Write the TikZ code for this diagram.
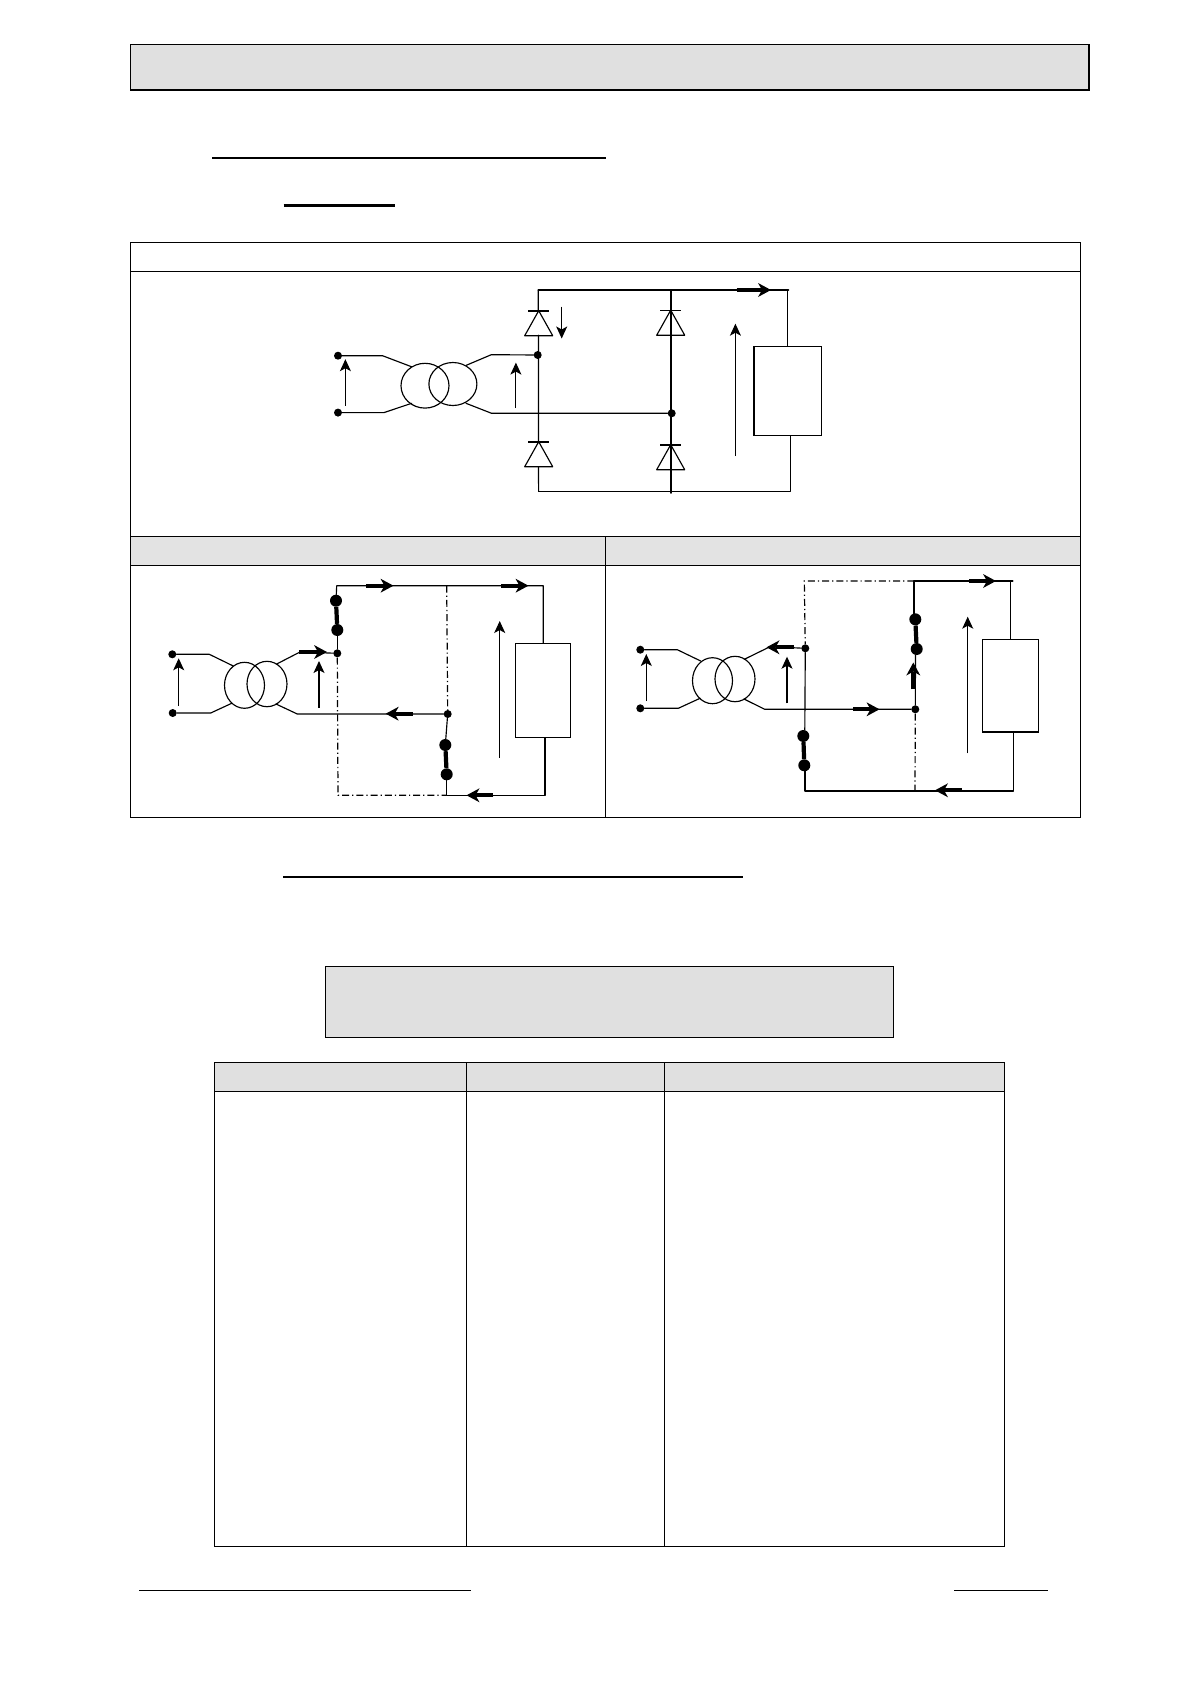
\documentclass[tikz,border=0pt]{standalone}
\usetikzlibrary{arrows.meta}
\definecolor{panelgray}{HTML}{E0E0E0}
\definecolor{cellgray}{HTML}{E3E3E3}
\tikzset{
  x=1pt,y=-1pt,
  wire/.style={line width=1.15pt,line cap=round,line join=round},
  hwire/.style={line width=1.6pt,line cap=round,line join=round},
  twire/.style={line width=0.8pt},
  frame/.style={line width=1pt},
  boldbar/.style={line width=4.2pt},
  guide/.style={line width=1.2pt,dash pattern=on 7pt off 3pt on 1.2pt off 3pt},
  varrow/.style={line width=1.1pt,-{Stealth[length=12pt,width=11pt,inset=3pt]}},
  iarrow/.style={line width=4pt,-{Stealth[length=13pt,width=14pt,inset=4pt,line width=0pt]}},
  rule/.style={line width=2pt},
  footrule/.style={line width=1pt},
  loadbox/.style={draw,line width=1.3pt,fill=white,inner sep=0pt},
  jdot/.style={circle,fill=black,inner sep=0pt,minimum size=8pt},
  swdot/.style={circle,fill=black,inner sep=0pt,minimum size=12pt},
  diodepic/.pic={
    \draw[wire] (-14,25)--(14,25)--(0,0)--cycle;
    \draw[line width=1.8pt] (-10.7,0)--(10.7,0);
  },
  diodethin/.pic={
    \draw[wire] (-14,25)--(14,25)--(0,0)--cycle;
    \draw[line width=1pt] (-10.7,0)--(10.7,0);
  }
}
\begin{document}
\begin{tikzpicture}
\useasboundingbox (0,0) rectangle (1190,1684);
\fill[white] (0,0) rectangle (1190,1684);

% header
\draw[fill=panelgray,frame] (130.5,44.2) rectangle (1088.8,89.6);
\draw[line width=2pt] (130,89.8)--(1089.6,89.8) (1088.8,44)--(1088.8,90.5);
\draw[rule] (212,158)--(606,158);
\draw[line width=3pt] (283.7,205)--(395,205);

% first table
\fill[cellgray] (130.7,536.3) rectangle (1080.3,565.3);
\draw[frame] (130.7,242.5) rectangle (1080.3,817.3);
\draw[frame] (130.7,271.4)--(1080.3,271.4);
\draw[frame] (130.7,536.3)--(1080.3,536.3);
\draw[frame] (130.7,565.3)--(1080.3,565.3);
\draw[frame] (605.3,536.3)--(605.3,817.3);

% ---------- bridge
\coordinate (tl) at (538.3,290);
\coordinate (tm) at (671,290);
\coordinate (tr) at (788.5,290);
\coordinate (bl) at (538.6,491.4);
\coordinate (bm) at (671,493);
\coordinate (br) at (790.5,491.4);
\node[loadbox,minimum width=67.6pt,minimum height=89.2pt] (loadA) at (787.8,391) {};
\draw[hwire] (tl)--(tr);
\draw[twire] (787,290)--(787,0 |- loadA.north);
\draw[wire] (790.5,0 |- loadA.south)--(br)--(bl);
\draw[wire] (tl)--(538.3,310.7) (538.5,335.3)--(538.5,441.7) (538.5,466.7)--(bl);
\draw[hwire] (tm)--(bm);
\pic at (538.7,310.7) {diodepic};
\pic at (670.7,310.2) {diodethin};
\pic at (538.7,441.7) {diodepic};
\pic at (670.7,444.7) {diodepic};
\draw[varrow] (561.7,306.7)--(561.7,338.5);
\draw[iarrow] (736.7,290)--(771,290);
% transformer A
\node[jdot] (a1) at (338,355.7) {};
\node[jdot] (a2) at (338,412.6) {};
\node[jdot] (a3) at (537.7,355) {};
\node[jdot] (a4) at (671.7,413.3) {};
\draw[wire] (a1)--(382.5,355.7)--(411.7,366.8);
\draw[wire] (a2)--(383.9,412.6)--(411.7,403.3);
\draw[wire] (466,365.4)--(491.3,354.7)--(a3);
\draw[wire] (466,403.3)--(491.3,413.2)--(a4);
\draw[wire] (425,385.7) ellipse (24 and 22.4);
\draw[wire] (452.9,384) ellipse (24 and 21.5);
\draw[varrow] (345.4,405.7)--(345.4,359.2);
\draw[varrow] (515.9,408)--(515.9,362.6);
\draw[varrow] (735.4,456)--(735.4,323.7);

% ---------- panel left
\node[jdot] (b1) at (172.3,654.3) {};
\node[jdot] (b2) at (172.7,713) {};
\node[jdot] (b3) at (337.3,653.3) {};
\node[jdot] (b4) at (447.7,714) {};
\node[swdot] (bs1) at (337.3,630) {};
\node[swdot] (bs2) at (336,600.7) {};
\node[swdot] (bs3) at (445.3,745) {};
\node[swdot] (bs4) at (446.7,774.3) {};
\node[loadbox,minimum width=55.4pt,minimum height=93.6pt] (loadB) at (543,690.5) {};
\draw[guide] (446.7,585.7)--(b4);
\draw[guide] (b3)--(338,795.3)--(446.7,795.3);
\draw[wire] (b1)--(209.3,654.3)--(233.3,666);
\draw[wire] (b2)--(210.7,713)--(231.7,703.3);
\draw[wire] (276.7,664)--(300,652)--(b3);
\draw[wire] (276,704)--(297.3,714)--(b4);
\draw[wire] (244.5,685.3) ellipse (20 and 23);
\draw[wire] (267,684) ellipse (20 and 22.7);
\draw[wire] (b3)--(bs1);
\draw[boldbar] (bs1)--(bs2);
\draw[wire] (bs2)--(336.7,585.7)--(543.3,585.7)--(543.3,0 |- loadB.north);
\draw[wire] (545,0 |- loadB.south)--(545,795.3)--(446.7,795.3)--(bs4);
\draw[boldbar] (bs4)--(bs3);
\draw[wire] (bs3)--(b4);
\draw[varrow] (178.7,706)--(178.7,658.3);
\draw[varrow] (319,707.7)--(319,661);
\draw[varrow] (499.7,757.7)--(499.7,621);
\draw[iarrow] (299.3,652)--(327,652);
\draw[iarrow] (366,585.7)--(393.5,585.7);
\draw[iarrow] (501.3,585.7)--(528.5,585.7);
\draw[iarrow] (412.7,713.7)--(385.7,713.7);
\draw[iarrow] (493.3,795.3)--(466.5,795.3);

% ---------- panel right
\node[jdot] (c1) at (640.3,649.7) {};
\node[jdot] (c2) at (640.3,708.3) {};
\node[jdot] (c3) at (805.3,648.3) {};
\node[jdot] (c4) at (915.3,709.3) {};
\node[swdot] (cs1) at (803.3,736) {};
\node[swdot] (cs2) at (804.3,765.3) {};
\node[swdot] (cs3) at (916.7,649) {};
\node[swdot] (cs4) at (915.3,619.3) {};
\node[loadbox,minimum width=55.6pt,minimum height=92.7pt] (loadC) at (1010.5,685.6) {};
\draw[guide] (914.3,581)--(804.3,581)--(c3);
\draw[guide] (c4)--(915,793);
\draw[wire] (c1)--(677.3,649.7)--(700.7,661);
\draw[wire] (c2)--(678.3,708.3)--(700,698.3);
\draw[wire] (744.3,659.3)--(770,646.7)--(c3);
\draw[wire] (744,699)--(764.7,709.3)--(c4);
\draw[wire] (712.5,680.7) ellipse (20 and 23);
\draw[wire] (735,679) ellipse (20 and 22.7);
\draw[wire] (c3)--(804.8,730);
\draw[boldbar] (cs1)--(cs2);
\draw[hwire] (804.7,770)--(804.7,790.7)--(1013.3,790.7)--(1013.3,0 |- loadC.south);
\draw[wire] (c4)--(915.5,655);
\draw[boldbar] (cs3)--(cs4);
\draw[hwire] (914,614)--(914,581)--(1012.7,581);
\draw[twire] (1010.7,581)--(1010.7,0 |- loadC.north);
\draw[varrow] (646.3,701)--(646.3,654);
\draw[varrow] (787,703.3)--(787,656.7);
\draw[varrow] (967.7,753.3)--(967.7,616.7);
\draw[iarrow] (794,647.3)--(766.5,647.3);
\draw[iarrow] (853.3,709.3)--(879.5,709.3);
\draw[iarrow] (913.3,689.3)--(913.3,662.5);
\draw[iarrow] (969.3,581)--(996,581);
\draw[iarrow] (961.7,790.3)--(935,790.3);

% ---------- lower part
\draw[rule] (283,877)--(743,877);
\draw[fill=panelgray,frame] (325.3,966.3) rectangle (893,1037);
\fill[panelgray] (214.7,1062.3) rectangle (1004,1091.3);
\draw[frame] (214.7,1062.3) rectangle (1004,1546.3);
\draw[frame] (214.7,1091.3)--(1004,1091.3);
\draw[frame] (466.7,1062.3)--(466.7,1546.3);
\draw[frame] (664,1062.3)--(664,1546.3);
\draw[footrule] (139,1590)--(470.7,1590);
\draw[footrule] (954,1590)--(1048,1590);
\end{tikzpicture}
\end{document}
